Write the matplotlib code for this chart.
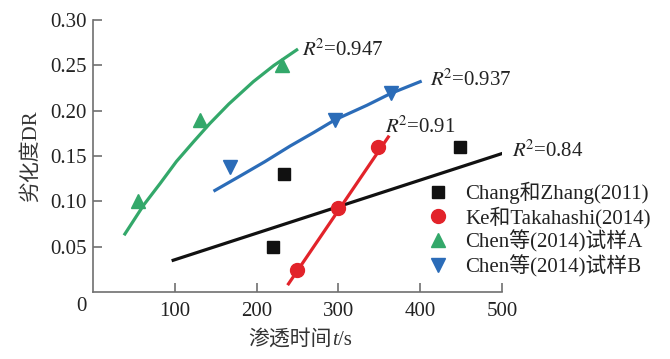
import matplotlib
matplotlib.use('Agg')
import matplotlib.pyplot as plt
from matplotlib.offsetbox import TextArea, HPacker, AnchoredOffsetbox

plt.rcParams['font.family'] = ['Liberation Serif', 'Noto Sans CJK SC']
plt.rcParams['mathtext.fontset'] = 'stix'
plt.rcParams['font.size'] = 15

# measured points
chang_t = [220, 234, 449]
chang_dr = [0.050, 0.130, 0.160]
ke_t = [249, 300, 349]
ke_dr = [0.024, 0.093, 0.160]
chenA_t = [55, 131, 231]
chenA_dr = [0.100, 0.190, 0.250]
chenB_t = [168, 296, 364]
chenB_dr = [0.138, 0.190, 0.219]

# fitted curves
chang_fit_t = [98, 501]
chang_fit_dr = [0.035, 0.153]
ke_fit_t = [239, 361]
ke_fit_dr = [0.009, 0.171]
chenA_fit_t = [39, 62, 82, 102, 123, 143, 166, 196, 221, 249]
chenA_fit_dr = [0.064, 0.096, 0.1196, 0.144, 0.1658, 0.186, 0.2073, 0.232, 0.2498, 0.267]
chenB_fit_t = [149, 180, 210, 241, 270, 296, 335, 364, 400]
chenB_fit_dr = [0.112, 0.128, 0.1437, 0.161, 0.176, 0.190, 0.206, 0.219, 0.232]

r2_labels = ['0.947', '0.937', '0.91', '0.84']
r2_pos = [(256, 0.267), (412, 0.234), (357, 0.182), (512, 0.155)]

black = '#111111'
red = '#e2232a'
green = '#33a86a'
blue = '#2b6cb8'
txt_c = '#222222'

fig = plt.figure(figsize=(6.7, 3.59), dpi=100)
ax = fig.add_axes([93 / 670, 1 - 292 / 359, 409 / 670, 272 / 359])

lw = 2.3
ax.plot(chang_fit_t, chang_fit_dr, color=black, lw=lw)
ax.plot(ke_fit_t, ke_fit_dr, color=red, lw=lw)
ax.plot(chenA_fit_t, chenA_fit_dr, color=green, lw=lw, solid_joinstyle='round')
ax.plot(chenB_fit_t, chenB_fit_dr, color=blue, lw=lw, solid_joinstyle='round')

ax.plot(chang_t, chang_dr, 's', color=black, ms=8.5, label='Chang和Zhang(2011)')
ax.plot(ke_t, ke_dr, 'o', color=red, ms=10, label='Ke和Takahashi(2014)')
ax.plot(chenA_t, chenA_dr, '^', color=green, ms=10, label='Chen等(2014)试样A')
ax.plot(chenB_t, chenB_dr, 'v', color=blue, ms=10, label='Chen等(2014)试样B')

for lab, (x, y) in zip(r2_labels, r2_pos):
    ax.text(x, y, r'$R^{\!2}$=' + lab, ha='left', va='center', fontsize=15, color=txt_c)

ax.set_xlim(0, 500)
ax.set_ylim(0, 0.30)
ax.set_xticks([100, 200, 300, 400, 500])
ax.set_yticks([0.05, 0.10, 0.15, 0.20, 0.25, 0.30])
ax.set_yticklabels(['0.05', '0.10', '0.15', '0.20', '0.25', '0.30'])
ax.annotate('0', xy=(0, 0), xycoords='axes fraction', xytext=(-4.5, -3.5),
            textcoords='offset points', ha='right', va='top', fontsize=15, color=txt_c)

spine_c = '#707070'
for s in ['top', 'right']:
    ax.spines[s].set_visible(False)
for s in ['left', 'bottom']:
    ax.spines[s].set_color(spine_c)
    ax.spines[s].set_linewidth(1.2)
ax.tick_params(direction='in', length=6.5, width=1.2, color=spine_c, labelcolor=txt_c)
ax.tick_params(axis='x', pad=7)
ax.tick_params(axis='y', pad=4.5)

# x label: CJK text plus italic t, built from pieces
parts = [
    TextArea('渗透时间', textprops=dict(fontsize=15, color='#333333')),
    TextArea('t', textprops=dict(fontsize=15, color='#333333', style='italic')),
    TextArea('/s', textprops=dict(fontsize=15, color='#333333')),
]
xlab = HPacker(children=parts, align='baseline', pad=0, sep=0)
ax.add_artist(AnchoredOffsetbox(loc='upper center', child=xlab, frameon=False,
                                bbox_to_anchor=(0.506, -0.14), bbox_transform=ax.transAxes,
                                borderpad=0, pad=0))
ax.set_ylabel('劣化度DR', labelpad=7, color='#333333')

ax.legend(loc='upper left', bbox_to_anchor=(0.819, 0.404), frameon=False,
          borderaxespad=0, borderpad=0, handlelength=1, handletextpad=0.8,
          labelspacing=0.1, fontsize=15, labelcolor=txt_c)

fig.savefig('out.png', dpi=100)
